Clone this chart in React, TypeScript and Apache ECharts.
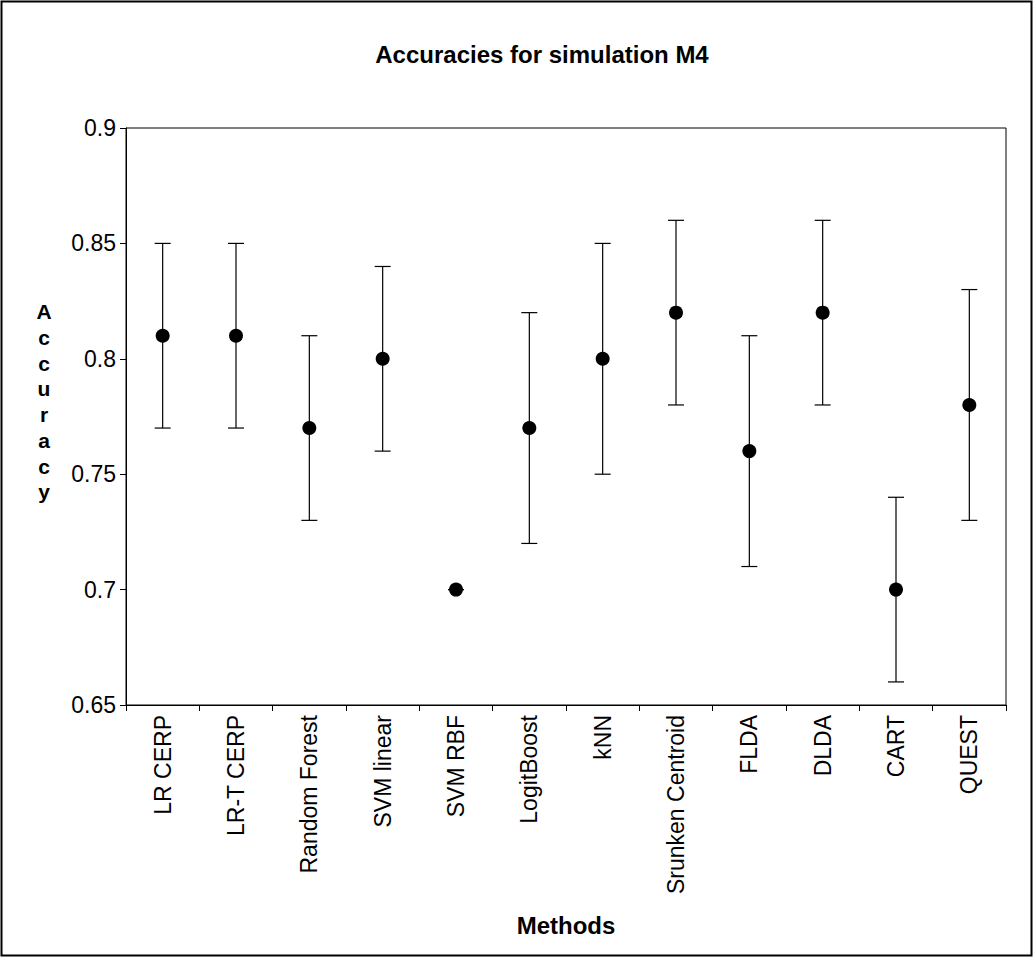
import React, { useEffect, useRef } from "react";
import * as echarts from "echarts";

const methods = [
  "LR CERP",
  "LR-T CERP",
  "Random Forest",
  "SVM linear",
  "SVM RBF",
  "LogitBoost",
  "kNN",
  "Srunken Centroid",
  "FLDA",
  "DLDA",
  "CART",
  "QUEST",
];
const accuracy = [0.81, 0.81, 0.77, 0.8, 0.7, 0.77, 0.8, 0.82, 0.76, 0.82, 0.7, 0.78];
const lower = [0.77, 0.77, 0.73, 0.76, 0.7, 0.72, 0.75, 0.78, 0.71, 0.78, 0.66, 0.73];
const upper = [0.85, 0.85, 0.81, 0.84, 0.7, 0.82, 0.85, 0.86, 0.81, 0.86, 0.74, 0.83];
const yTicks = [0.65, 0.7, 0.75, 0.8, 0.85, 0.9];

const FONT = "Arial, 'Liberation Sans', sans-serif";

export default function App() {
  const ref = useRef<HTMLDivElement>(null);
  useEffect(() => {
    if (!ref.current) return;
    const chart = echarts.init(ref.current, null, { renderer: "svg" });
    const errData = methods.map((_, i) => [i, lower[i], upper[i]]);
    chart.setOption({
      animation: false,
      backgroundColor: "#ffffff",
      title: {
        text: "Accuracies for simulation M4",
        left: 537,
        textAlign: "center",
        top: 37,
        textStyle: { fontFamily: FONT, fontSize: 24, fontWeight: "bold", color: "#000" },
      },
      grid: { left: 126, right: 28, top: 128, bottom: 253, show: true, borderColor: "#000", borderWidth: 1 },
      xAxis: {
        type: "category",
        data: methods,
        name: "Methods",
        nameLocation: "middle",
        nameGap: 208,
        nameTextStyle: { fontFamily: FONT, fontSize: 24, fontWeight: "bold", color: "#000" },
        axisLine: { lineStyle: { color: "#000", width: 1 } },
        axisTick: { show: true, alignWithLabel: false, length: 6, lineStyle: { color: "#000" } },
        axisLabel: { rotate: 90, fontFamily: FONT, fontSize: 23, color: "#000", margin: 10, interval: 0 },
        splitLine: { show: false },
      },
      yAxis: {
        type: "value",
        min: yTicks[0],
        max: yTicks[yTicks.length - 1],
        interval: 0.05,
        axisLine: { show: true, lineStyle: { color: "#000", width: 1 } },
        axisTick: { show: true, length: 6, lineStyle: { color: "#000" } },
        axisLabel: {
          fontFamily: FONT,
          fontSize: 23,
          color: "#000",
          margin: 10,
          formatter: (v: number) => String(parseFloat(v.toFixed(2))),
        },
        splitLine: { show: false },
      },
      series: [
        {
          type: "custom",
          data: errData,
          renderItem: (params: any, api: any) => {
            const x = api.value(0);
            const lo = api.coord([x, api.value(1)]);
            const hi = api.coord([x, api.value(2)]);
            const hw = 8;
            const style = { stroke: "#000", lineWidth: 1.2 };
            return {
              type: "group",
              children: [
                { type: "line", shape: { x1: lo[0], y1: lo[1], x2: hi[0], y2: hi[1] }, style },
                { type: "line", shape: { x1: lo[0] - hw, y1: lo[1], x2: lo[0] + hw, y2: lo[1] }, style },
                { type: "line", shape: { x1: hi[0] - hw, y1: hi[1], x2: hi[0] + hw, y2: hi[1] }, style },
              ],
            };
          },
          z: 2,
        },
        {
          type: "scatter",
          data: accuracy,
          symbol: "circle",
          symbolSize: 14,
          itemStyle: { color: "#000", opacity: 1 },
          z: 3,
        },
      ],
      graphic: [
        {
          type: "rect",
          shape: { x: 1.5, y: 1.5, width: 1030, height: 954 },
          style: { fill: "none", stroke: "#000", lineWidth: 2 },
          silent: true,
        },
        {
          type: "text",
          x: 44,
          y: 299,
          style: {
            text: "A\nc\nc\nu\nr\na\nc\ny",
            font: `bold 21px ${FONT}`,
            lineHeight: 25.7,
            fill: "#000",
            align: "center",
          },
        },
      ],
    });
    return () => chart.dispose();
  }, []);
  return (
    <div
      ref={ref}
      style={{ position: "absolute", left: 0, top: 0, width: 1034, height: 958 }}
    />
  );
}
